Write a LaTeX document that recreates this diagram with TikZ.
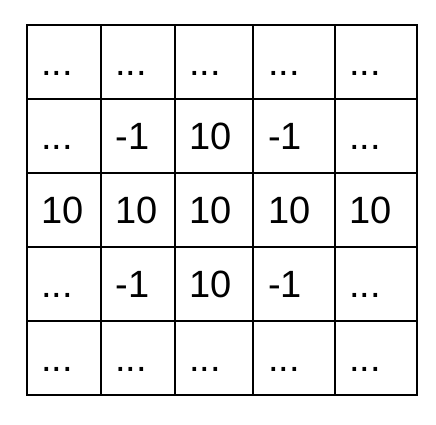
\documentclass[tikz,border=0pt]{standalone}
\usepackage{fontspec}
\setmainfont{Liberation Sans}
\usetikzlibrary{calc}
\newcommand{\dts}{...}
\tikzset{
  cell/.style={draw,rectangle,line width=2pt,inner sep=0pt,minimum height=74pt},
  val/.style={anchor=base west,inner sep=0pt,font=\fontsize{38}{40}\selectfont}
}
\begin{document}
\begin{tikzpicture}[x=1pt,y=-1pt]
    \useasboundingbox (0,0) rectangle (436,424);
    % grid cells
    \foreach \c/\xl/\xr in {1/26.7/100.7,2/100.7/174.7,3/174.7/253.3,4/253.3/334.7,5/334.7/416.7}{
      \foreach \r in {1,...,5}{
        \pgfmathsetmacro\w{\xr-\xl}
        \pgfmathsetmacro\cx{(\xr+\xl)/2}
        \pgfmathsetmacro\cy{24.7+74*(\r-1)+37}
        \node[cell,minimum width=\w pt] (c\r\c) at (\cx,\cy) {};
      }
    }
    % values
    \foreach \r/\row in {1/{\dts,\dts,\dts,\dts,\dts},2/{\dts,-1,10,-1,\dts},3/{10,10,10,10,10},4/{\dts,-1,10,-1,\dts},5/{\dts,\dts,\dts,\dts,\dts}}{
      \foreach \v [count=\c] in \row{
        \node[val] (t\r\c) at ($(c\r\c.west)+(15.5,14)$) {\v};
      }
    }
\end{tikzpicture}
\end{document}
